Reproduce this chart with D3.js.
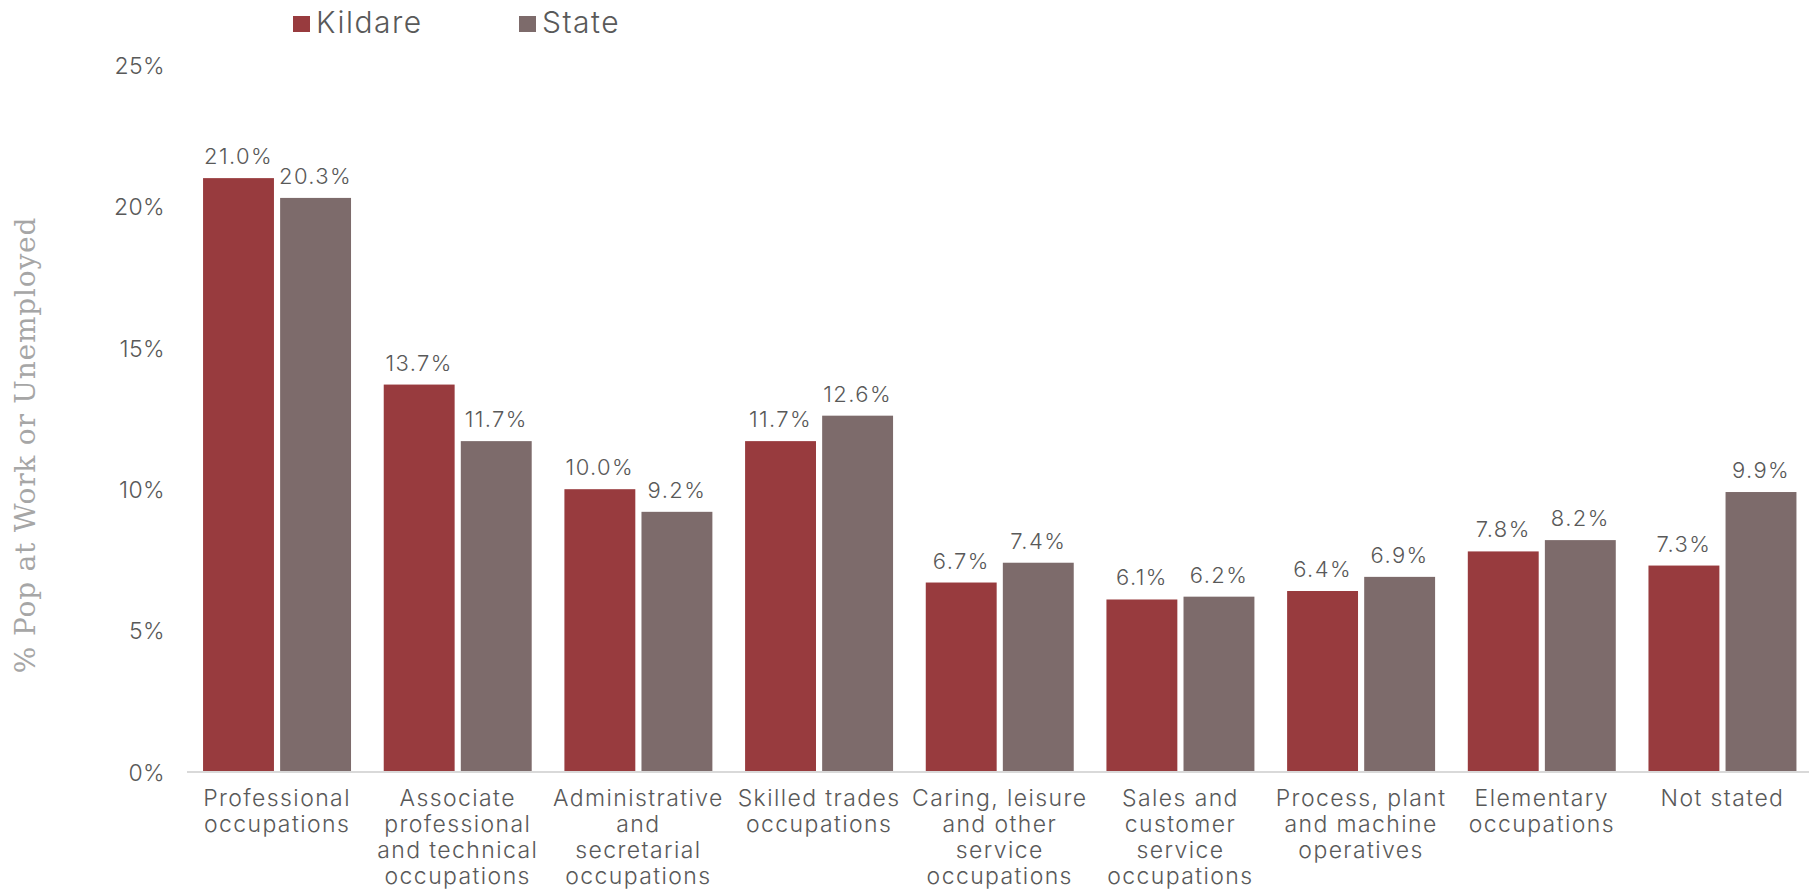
<!DOCTYPE html>
<html>
<head>
<meta charset="utf-8">
<script src="https://cdn.jsdelivr.net/npm/d3@7"></script>
<style>
  html, body { margin: 0; padding: 0; background: #ffffff; }
  svg { display: block; }
  text { font-family: "Inter", "Open Sans", sans-serif; }
</style>
</head>
<body>
<svg id="chart" width="1809" height="893"></svg>
<script>
// Occupational breakdown: Kildare vs State (% of population at work or unemployed)
const categories = [
  "Professional occupations",
  "Associate professional and technical occupations",
  "Administrative and secretarial occupations",
  "Skilled trades occupations",
  "Caring, leisure and other service occupations",
  "Sales and customer service occupations",
  "Process, plant and machine operatives",
  "Elementary occupations",
  "Not stated"
];
const categoryLines = [
  ["Professional", "occupations"],
  ["Associate", "professional", "and technical", "occupations"],
  ["Administrative", "and", "secretarial", "occupations"],
  ["Skilled trades", "occupations"],
  ["Caring, leisure", "and other", "service", "occupations"],
  ["Sales and", "customer", "service", "occupations"],
  ["Process, plant", "and machine", "operatives"],
  ["Elementary", "occupations"],
  ["Not stated"]
];
const seriesNames = ["Kildare", "State"];
const kildare = [21.0, 13.7, 10.0, 11.7, 6.7, 6.1, 6.4, 7.8, 7.3];
const state   = [20.3, 11.7, 9.2, 12.6, 7.4, 6.2, 6.9, 8.2, 9.9];
const yTicks = [0, 5, 10, 15, 20, 25];
const yTitle = "% Pop at Work or Unemployed";

const colors = { Kildare: "#983B3E", State: "#7D6B6B" };
const textColor = "#595959";

const svg = d3.select("#chart");

const rows = categories.map((c, i) => ({
  category: c,
  lines: categoryLines[i],
  values: [
    { series: "Kildare", value: kildare[i] },
    { series: "State", value: state[i] }
  ]
}));

const x0 = d3.scaleBand()
  .domain(categories)
  .range([186.7, 1812.8])
  .paddingInner(0.181)
  .paddingOuter(0.0905);

const x1 = d3.scaleBand()
  .domain(seriesNames)
  .range([0, x0.bandwidth()])
  .paddingInner(0.08);

const y = d3.scaleLinear().domain([0, 25]).range([772, 65]);

// Y axis tick labels (no axis line, no gridlines)
const yAxis = d3.axisLeft(y)
  .tickValues(yTicks)
  .tickFormat(d => d + "%")
  .tickSize(0)
  .tickPadding(0);

const yG = svg.append("g")
  .attr("transform", "translate(165,0)")
  .call(yAxis);
yG.select(".domain").remove();
yG.selectAll("text")
  .attr("fill", textColor)
  .attr("dy", "0.36em")
  .style("font-size", "23px")
  .style("font-weight", 300)
  .style("letter-spacing", "0.4px")
  .style("font-family", "Inter, sans-serif");

// Y axis title
svg.append("text")
  .attr("transform", "translate(35,445) rotate(-90)")
  .attr("text-anchor", "middle")
  .attr("fill", "#A6A6A6")
  .style("font-family", "'DejaVu Serif', serif")
  .style("font-size", "28px")
  .style("letter-spacing", "0.8px")
  .text(yTitle);

// Bars
const groups = svg.append("g")
  .selectAll("g")
  .data(rows)
  .join("g")
  .attr("transform", d => `translate(${x0(d.category)},0)`);

groups.selectAll("rect")
  .data(d => d.values)
  .join("rect")
  .attr("x", d => x1(d.series))
  .attr("y", d => y(d.value))
  .attr("width", x1.bandwidth())
  .attr("height", d => y(0) - y(d.value))
  .attr("fill", d => colors[d.series]);

// Value labels
groups.selectAll("text.val")
  .data(d => d.values)
  .join("text")
  .attr("class", "val")
  .attr("x", d => x1(d.series) + x1.bandwidth() / 2)
  .attr("y", d => y(d.value) - 14)
  .attr("text-anchor", "middle")
  .attr("fill", textColor)
  .style("font-size", "22px")
  .style("font-weight", 300)
  .style("letter-spacing", "1.4px")
  .text(d => d.value.toFixed(1) + "%");

// Category baseline
const xAxis = d3.axisBottom(x0).tickSize(0).tickFormat("");
const xG = svg.append("g")
  .attr("transform", `translate(0,${y(0)})`)
  .call(xAxis);
xG.select(".domain")
  .attr("d", "M187,0H1809")
  .attr("stroke", "#D9D9D9")
  .attr("stroke-width", 2);

// Category labels (multi-line)
const catLabels = svg.append("g")
  .selectAll("text")
  .data(rows)
  .join("text")
  .attr("text-anchor", "middle")
  .attr("fill", textColor)
  .style("font-size", "23px")
  .style("font-weight", 300)
  .style("letter-spacing", "1.4px")
  .attr("transform", d => `translate(${x0(d.category) + x0.bandwidth() / 2},806)`);

catLabels.selectAll("tspan")
  .data(d => d.lines)
  .join("tspan")
  .attr("x", 0)
  .attr("y", (d, i) => i * 26)
  .text(d => d);

// Legend
const legend = svg.append("g");
const legendX = [293, 519];
seriesNames.forEach((s, i) => {
  legend.append("rect")
    .attr("x", legendX[i])
    .attr("y", 16)
    .attr("width", 17)
    .attr("height", 16)
    .attr("fill", colors[s]);
  legend.append("text")
    .attr("x", legendX[i] + 23)
    .attr("y", 33)
    .attr("fill", textColor)
    .style("font-size", "30px")
    .style("font-weight", 300)
    .style("letter-spacing", "1.5px")
    .text(s);
});
</script>
</body>
</html>
